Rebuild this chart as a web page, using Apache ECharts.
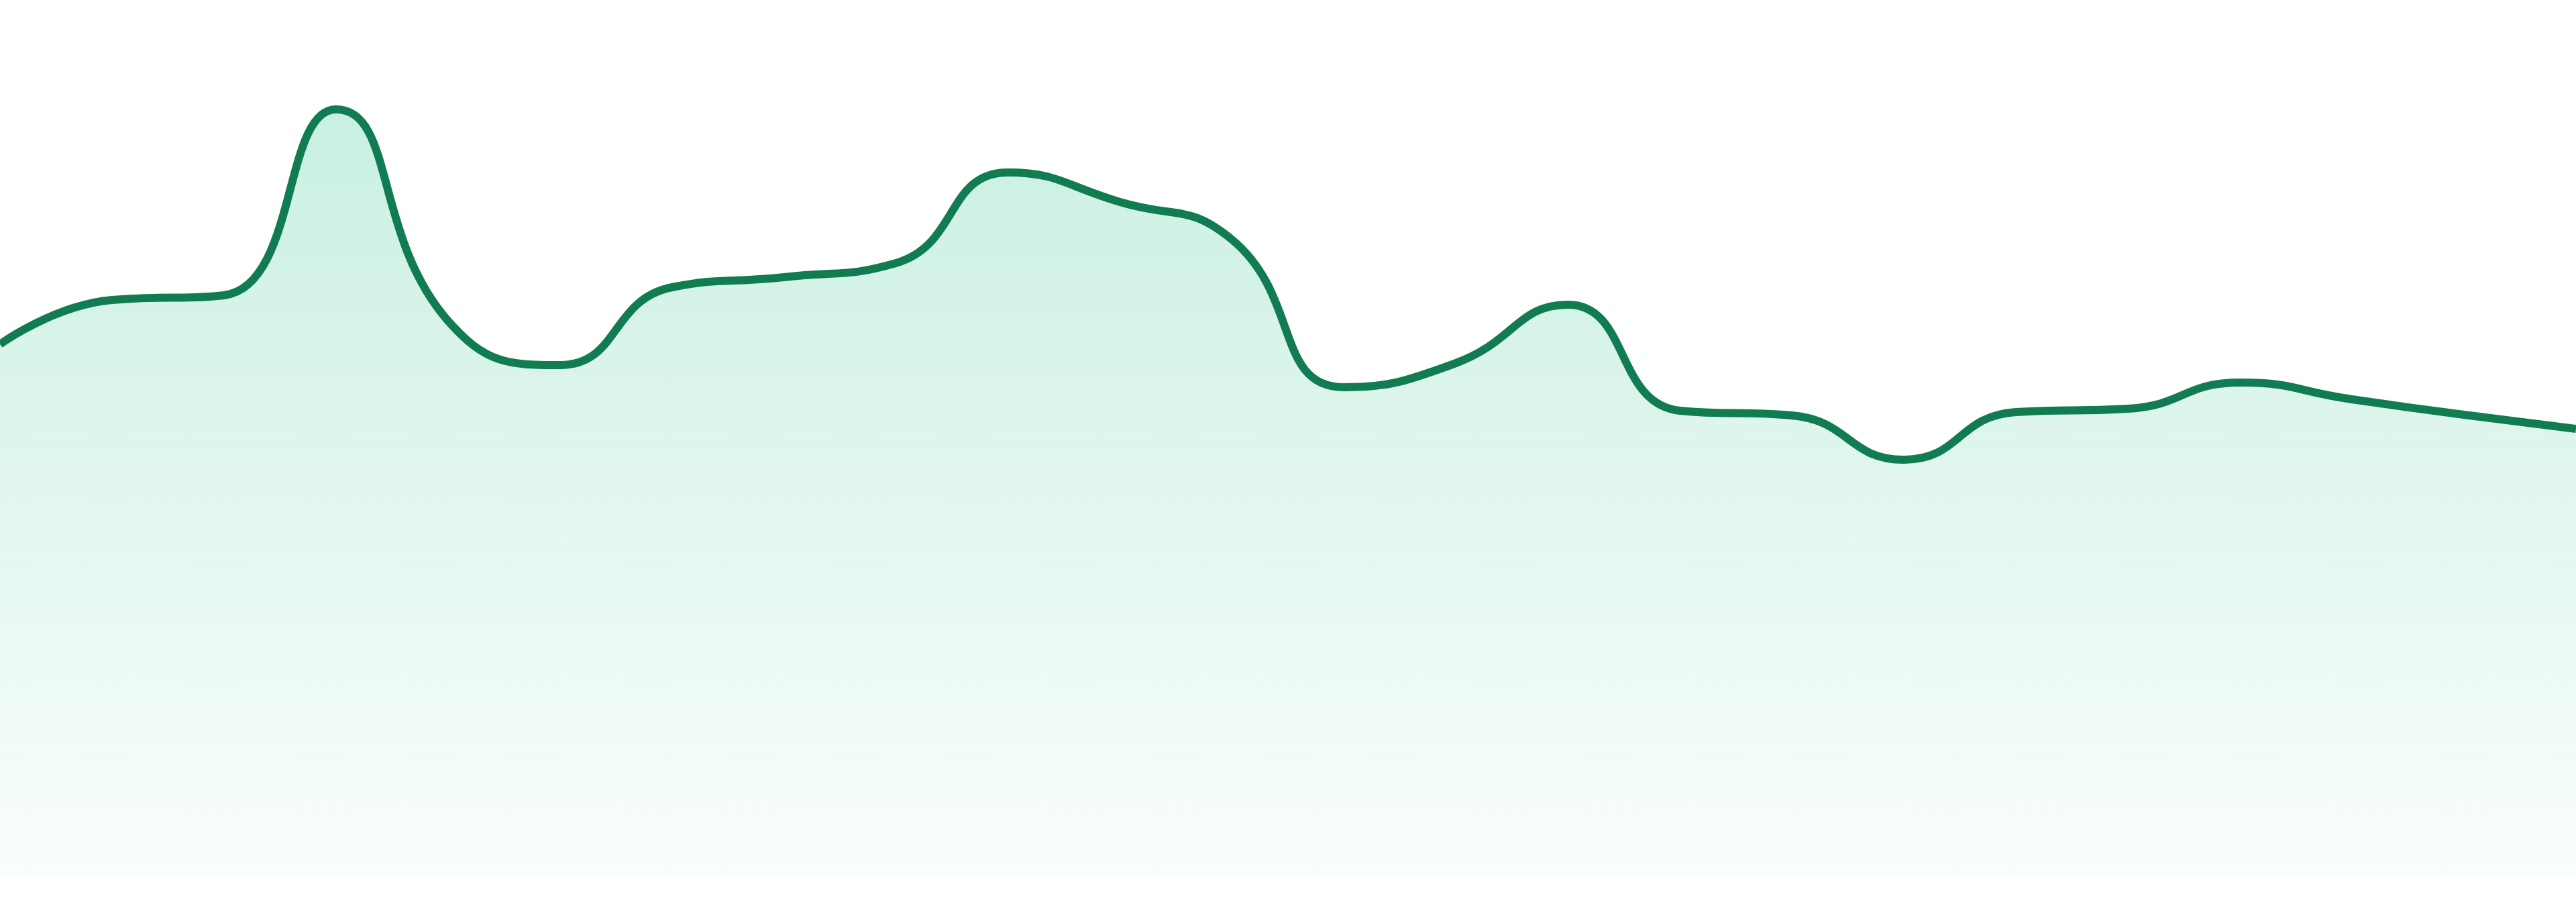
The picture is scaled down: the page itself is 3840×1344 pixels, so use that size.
<!DOCTYPE html>
<html>
<head>
<meta charset="utf-8">
<title>Area trend</title>
<script src="https://cdn.jsdelivr.net/npm/echarts@6/dist/echarts.min.js"></script>
<style>
  html, body { margin: 0; padding: 0; background: #fff; }
  #chart { width: 3840px; height: 1344px; }
</style>
</head>
<body>
<div id="chart"></div>
<script>
// categories along the x axis (no labels are shown)
const days = []
for (let i = 1; i <= 24; i++) {
  days.push(`${i}`)
}

// values, in the chart's own units
const values = [
  792, 858, 865, 1142, 827, 761, 877, 892, 913, 1048, 1004, 948,
  728, 764, 851, 693, 686, 620, 691, 696, 735, 710, 687, 666,
]

const lineColor = '#117c52'

const chart = echarts.init(document.getElementById('chart'))
chart.setOption({
  animation: false,
  grid: { left: 0, right: 0, top: 0, bottom: 39 },
  xAxis: {
    type: 'category',
    data: days,
    boundaryGap: false,
    show: false,
  },
  yAxis: {
    type: 'value',
    min: 0,
    max: 1305,
    show: false,
  },
  series: [{
    type: 'line',
    data: values,
    smooth: true,
    symbol: 'none',
    lineStyle: { color: lineColor, width: 12 },
    areaStyle: {
      // fades from the top of the area down to the baseline
      color: new echarts.graphic.LinearGradient(0, 0, 0, 1, [
        { offset: 0, color: 'rgba(16, 185, 129, 0.32)' },
        { offset: 1, color: 'rgba(16, 185, 129, 0.03)' },
      ]),
    },
  }],
})
</script>
</body>
</html>
